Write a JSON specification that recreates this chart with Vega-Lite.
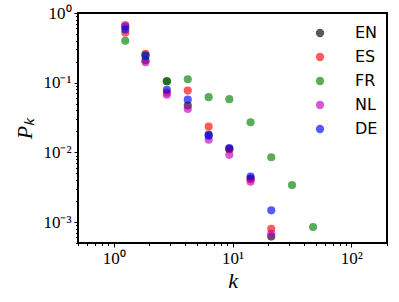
{
  "$schema": "https://vega.github.io/schema/vega-lite/v6.json",
  "autosize": "none",
  "padding": {"left": 78, "top": 13, "right": 12, "bottom": 59},
  "width": 309,
  "height": 230,
  "background": "white",
  "config": {
    "view": {"stroke": "black", "strokeWidth": 2},
    "axis": {"grid": false, "domain": false, "tickColor": "black", "labelColor": "black", "titleColor": "black"}
  },
  "data": {
    "values": [
      {"lang": "EN", "k": 1.25, "p": 0.64},
      {"lang": "EN", "k": 1.85, "p": 0.21},
      {"lang": "EN", "k": 2.8, "p": 0.105},
      {"lang": "EN", "k": 4.2, "p": 0.047},
      {"lang": "EN", "k": 6.3, "p": 0.018},
      {"lang": "EN", "k": 9.4, "p": 0.0112},
      {"lang": "EN", "k": 14.2, "p": 0.0042},
      {"lang": "EN", "k": 21.2, "p": 0.00062},
      {"lang": "ES", "k": 1.25, "p": 0.52},
      {"lang": "ES", "k": 1.85, "p": 0.26},
      {"lang": "ES", "k": 2.8, "p": 0.072},
      {"lang": "ES", "k": 4.2, "p": 0.077},
      {"lang": "ES", "k": 6.3, "p": 0.0235},
      {"lang": "ES", "k": 9.4, "p": 0.011},
      {"lang": "ES", "k": 14.2, "p": 0.0041},
      {"lang": "ES", "k": 21.2, "p": 0.0008},
      {"lang": "FR", "k": 1.25, "p": 0.40},
      {"lang": "FR", "k": 1.85, "p": 0.25},
      {"lang": "FR", "k": 2.8, "p": 0.105},
      {"lang": "FR", "k": 4.2, "p": 0.112},
      {"lang": "FR", "k": 6.3, "p": 0.062},
      {"lang": "FR", "k": 9.4, "p": 0.058},
      {"lang": "FR", "k": 14.2, "p": 0.027},
      {"lang": "FR", "k": 21.2, "p": 0.0085},
      {"lang": "FR", "k": 31.7, "p": 0.0034},
      {"lang": "FR", "k": 47.7, "p": 0.00085},
      {"lang": "NL", "k": 1.25, "p": 0.67},
      {"lang": "NL", "k": 1.85, "p": 0.196},
      {"lang": "NL", "k": 2.8, "p": 0.067},
      {"lang": "NL", "k": 4.2, "p": 0.042},
      {"lang": "NL", "k": 6.3, "p": 0.0152},
      {"lang": "NL", "k": 9.4, "p": 0.0092},
      {"lang": "NL", "k": 14.2, "p": 0.0038},
      {"lang": "NL", "k": 21.2, "p": 0.00068},
      {"lang": "DE", "k": 1.25, "p": 0.58},
      {"lang": "DE", "k": 1.85, "p": 0.242},
      {"lang": "DE", "k": 2.8, "p": 0.079},
      {"lang": "DE", "k": 4.2, "p": 0.057},
      {"lang": "DE", "k": 6.3, "p": 0.0173},
      {"lang": "DE", "k": 9.4, "p": 0.0115},
      {"lang": "DE", "k": 14.2, "p": 0.0045},
      {"lang": "DE", "k": 21.2, "p": 0.00147}
    ]
  },
  "mark": {"type": "point", "filled": true, "opacity": 0.65, "size": 66, "strokeWidth": 0},
  "encoding": {
    "x": {
      "field": "k", "type": "quantitative",
      "scale": {"type": "log", "domain": [0.5, 200], "nice": false},
      "axis": {
        "title": "k",
        "titleFont": "Liberation Serif", "titleFontStyle": "italic", "titleFontWeight": "normal", "titleFontSize": 22,
        "titlePadding": 4,
        "labelFont": "Liberation Serif", "labelFontSize": 17, "labelPadding": 3,
        "values": [0.5,0.6,0.7,0.8,0.9,1,2,3,4,5,6,7,8,9,10,20,30,40,50,60,70,80,90,100,200],
        "labelExpr": "datum.value == 1 ? '10⁰' : datum.value == 10 ? '10¹' : datum.value == 100 ? '10²' : ''",
        "labelOverlap": false,
        "tickSize": {"condition": {"test": "datum.value == 1 || datum.value == 10 || datum.value == 100", "value": 4}, "value": 2.5},
        "tickWidth": 1
      }
    },
    "y": {
      "field": "p", "type": "quantitative",
      "scale": {"type": "log", "domain": [0.0005, 1], "nice": false},
      "axis": {
        "title": "Pₖ",
        "titleFont": "Liberation Serif", "titleFontStyle": "italic", "titleFontWeight": "normal", "titleFontSize": 22,
        "titlePadding": 6,
        "labelFont": "Liberation Serif", "labelFontSize": 17, "labelPadding": 3,
        "values": [0.0005,0.0006,0.0007,0.0008,0.0009,0.001,0.002,0.003,0.004,0.005,0.006,0.007,0.008,0.009,0.01,0.02,0.03,0.04,0.05,0.06,0.07,0.08,0.09,0.1,0.2,0.3,0.4,0.5,0.6,0.7,0.8,0.9,1],
        "labelExpr": "datum.value == 1 ? '10⁰' : datum.value == 0.1 ? '10⁻¹' : datum.value == 0.01 ? '10⁻²' : datum.value == 0.001 ? '10⁻³' : ''",
        "labelOverlap": false,
        "tickSize": {"condition": {"test": "datum.value == 1 || datum.value == 0.1 || datum.value == 0.01 || datum.value == 0.001", "value": 4}, "value": 2.5},
        "tickWidth": 1
      }
    },
    "color": {
      "field": "lang", "type": "nominal",
      "scale": {"domain": ["EN", "ES", "FR", "NL", "DE"], "range": ["#000000", "#ff0000", "#008000", "#bf00bf", "#0000ff"]},
      "legend": {
        "title": null,
        "orient": "none",
        "legendX": 234,
        "legendY": 12,
        "padding": 0,
        "symbolSize": 70,
        "symbolOpacity": 0.65,
        "symbolStrokeWidth": 0,
        "labelFont": "DejaVu Sans",
        "labelFontSize": 16,
        "labelColor": "black",
        "labelOffset": 27,
        "rowPadding": 8
      }
    }
  }
}
